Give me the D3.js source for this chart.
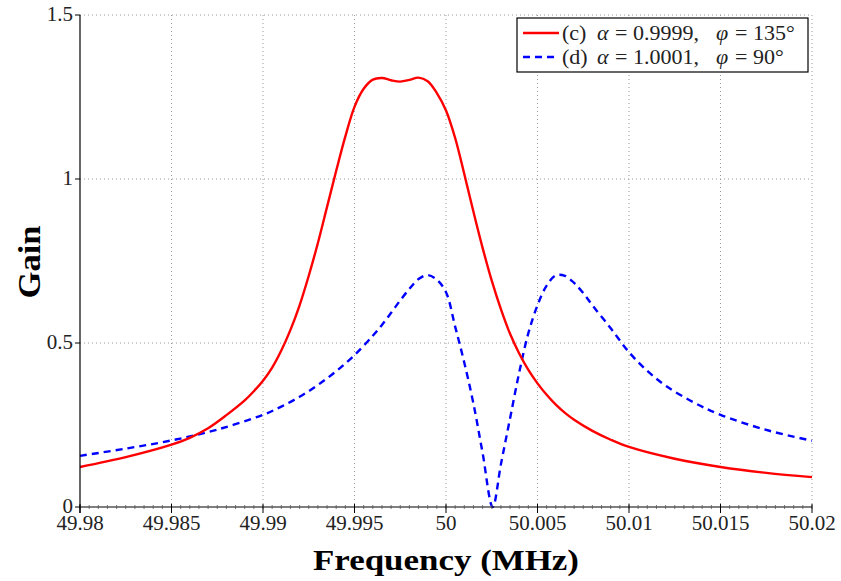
<!DOCTYPE html>
<html>
<head>
<meta charset="utf-8">
<script src="https://cdn.jsdelivr.net/npm/d3@7"></script>
<style>
  body { margin: 0; background: #fff; }
  svg { display: block; font-family: "Liberation Serif", "DejaVu Serif", serif; }
</style>
</head>
<body>
<svg id="chart"></svg>
<script>
const width = 841;
const height = 581;

// (c) alpha = 0.9999, phi = 135 : frequency (MHz) and gain
const freqC = [49.98, 49.9825, 49.985, 49.986, 49.987, 49.988, 49.989, 49.9895, 49.99, 49.9905,
  49.991, 49.9915, 49.992, 49.9925, 49.993, 49.9935, 49.994, 49.9945, 49.995, 49.9955,
  49.996, 49.9965, 49.997, 49.9975, 49.998, 49.9985, 49.999, 49.9995, 50.0, 50.0005,
  50.001, 50.0015, 50.002, 50.0025, 50.003, 50.0035, 50.004, 50.0045, 50.005, 50.0055,
  50.006, 50.0065, 50.007, 50.008, 50.009, 50.01, 50.0125, 50.015, 50.0175, 50.02];
const gainC = [0.122, 0.152, 0.19, 0.211, 0.24, 0.28, 0.325, 0.353, 0.385, 0.425,
  0.477, 0.54, 0.615, 0.705, 0.805, 0.915, 1.025, 1.13, 1.22, 1.275,
  1.303, 1.308, 1.301, 1.297, 1.302, 1.309, 1.298, 1.262, 1.209, 1.125,
  1.015, 0.9, 0.79, 0.69, 0.603, 0.528, 0.468, 0.418, 0.377, 0.342,
  0.312, 0.287, 0.266, 0.232, 0.205, 0.183, 0.147, 0.122, 0.104, 0.091];

// (d) alpha = 1.0001, phi = 90 : frequency (MHz) and gain
const freqD = [49.98, 49.9825, 49.985, 49.9875, 49.99, 49.991, 49.992, 49.993, 49.994, 49.995,
  49.996, 49.9965, 49.997, 49.9975, 49.998, 49.9985, 49.999, 49.9995, 50.0, 50.0005,
  50.001, 50.0015, 50.002, 50.00255, 50.003, 50.0035, 50.004, 50.0045, 50.005, 50.0055,
  50.006, 50.0065, 50.007, 50.0075, 50.008, 50.009, 50.01, 50.011, 50.012, 50.0135,
  50.015, 50.0175, 50.02];
const gainD = [0.156, 0.178, 0.203, 0.236, 0.281, 0.306, 0.336, 0.372, 0.414, 0.463,
  0.522, 0.555, 0.592, 0.63, 0.665, 0.695, 0.707, 0.693, 0.655, 0.55,
  0.44, 0.315, 0.165, 0.0, 0.13, 0.27, 0.41, 0.53, 0.615, 0.675,
  0.706, 0.705, 0.683, 0.652, 0.615, 0.545, 0.472, 0.415, 0.37, 0.32,
  0.281, 0.235, 0.202];

const xTicks = [49.98, 49.985, 49.99, 49.995, 50, 50.005, 50.01, 50.015, 50.02];
const xTickLabels = ["49.98", "49.985", "49.99", "49.995", "50", "50.005", "50.01", "50.015", "50.02"];
const yTicks = [0, 0.5, 1, 1.5];
const yTickLabels = ["0", "0.5", "1", "1.5"];

const margin = { top: 15, right: 29, bottom: 74, left: 80 };
const innerW = width - margin.left - margin.right;
const innerH = height - margin.top - margin.bottom;

const svg = d3.select("#chart").attr("width", width).attr("height", height);
const g = svg.append("g").attr("transform", `translate(${margin.left},${margin.top})`);

const x = d3.scaleLinear().domain([49.98, 50.02]).range([0, innerW]);
const y = d3.scaleLinear().domain([0, 1.5]).range([innerH, 0]);

// grid
g.append("g").selectAll("line")
  .data(xTicks.slice(1))
  .join("line")
  .attr("x1", d => x(d)).attr("x2", d => x(d))
  .attr("y1", 0).attr("y2", innerH)
  .attr("stroke", "#9a9a9a").attr("stroke-width", 1)
  .attr("stroke-dasharray", "1,3");

g.append("g").selectAll("line")
  .data(yTicks.slice(1))
  .join("line")
  .attr("x1", 0).attr("x2", innerW)
  .attr("y1", d => y(d)).attr("y2", d => y(d))
  .attr("stroke", "#9a9a9a").attr("stroke-width", 1)
  .attr("stroke-dasharray", "1,3");

// curves
const lineFor = xs => d3.line()
  .x((d, i) => x(xs[i]))
  .y(d => y(d))
  .curve(d3.curveCatmullRom.alpha(0.5));

g.append("path")
  .datum(gainD)
  .attr("d", lineFor(freqD))
  .attr("fill", "none")
  .attr("stroke", "#0000ff")
  .attr("stroke-width", 2.4)
  .attr("stroke-dasharray", "7,5");

g.append("path")
  .datum(gainC)
  .attr("d", lineFor(freqC))
  .attr("fill", "none")
  .attr("stroke", "#ff0000")
  .attr("stroke-width", 2.4);

// x axis with minor ticks
const xAxis = g.append("g").attr("transform", `translate(0,${innerH})`);
xAxis.append("line")
  .attr("x1", 0).attr("x2", innerW)
  .attr("stroke", "#000").attr("stroke-width", 1.2);
xAxis.selectAll(".minor")
  .data(d3.range(0, 81).map(i => 49.98 + i * 0.0005))
  .join("line")
  .attr("class", "minor")
  .attr("x1", d => x(d)).attr("x2", d => x(d))
  .attr("y1", -2).attr("y2", 2)
  .attr("stroke", "#555").attr("stroke-width", 0.8);
xAxis.selectAll(".major")
  .data(xTicks)
  .join("line")
  .attr("class", "major")
  .attr("x1", d => x(d)).attr("x2", d => x(d))
  .attr("y1", -3).attr("y2", 6)
  .attr("stroke", "#000").attr("stroke-width", 1);
xAxis.selectAll("text")
  .data(xTicks)
  .join("text")
  .attr("x", d => x(d))
  .attr("y", 23)
  .attr("text-anchor", "middle")
  .attr("font-size", 21)
  .attr("fill", "#222")
  .text((d, i) => xTickLabels[i]);

// y axis
const yAxis = g.append("g");
yAxis.append("line")
  .attr("x1", 0).attr("x2", 0)
  .attr("y1", 0).attr("y2", innerH + 6)
  .attr("stroke", "#000").attr("stroke-width", 1.2);
yAxis.selectAll(".tick")
  .data(yTicks)
  .join("line")
  .attr("class", "tick")
  .attr("x1", -5).attr("x2", 0)
  .attr("y1", d => y(d)).attr("y2", d => y(d))
  .attr("stroke", "#000").attr("stroke-width", 1);
yAxis.selectAll("text")
  .data(yTicks)
  .join("text")
  .attr("x", -7)
  .attr("y", d => y(d) + 6)
  .attr("text-anchor", "end")
  .attr("font-size", 21)
  .attr("fill", "#222")
  .text((d, i) => yTickLabels[i]);

// axis titles
svg.append("text")
  .attr("x", margin.left + innerW / 2)
  .attr("y", 570)
  .attr("text-anchor", "middle")
  .attr("font-size", 30)
  .attr("font-weight", "bold")
  .attr("textLength", 266)
  .attr("lengthAdjust", "spacingAndGlyphs")
  .text("Frequency (MHz)");

svg.append("text")
  .attr("transform", "translate(40,262) rotate(-90)")
  .attr("text-anchor", "middle")
  .attr("font-size", 31)
  .attr("font-weight", "bold")
  .attr("textLength", 73)
  .attr("lengthAdjust", "spacingAndGlyphs")
  .text("Gain");

// legend
const legend = svg.append("g").attr("transform", "translate(517,18)");
legend.append("rect")
  .attr("width", 291).attr("height", 54)
  .attr("fill", "#fff").attr("stroke", "#000").attr("stroke-width", 1.2);

const legendItems = [
  { color: "#ff0000", dash: null, label: "(c)", alpha: "0.9999,", phi: "135°" },
  { color: "#0000ff", dash: "7,5", label: "(d)", alpha: "1.0001,", phi: "90°" }
];
legendItems.forEach((item, i) => {
  const yy = 15 + i * 24;
  legend.append("line")
    .attr("x1", 6).attr("x2", 42)
    .attr("y1", yy).attr("y2", yy)
    .attr("stroke", item.color).attr("stroke-width", 2.4)
    .attr("stroke-dasharray", item.dash);
  const t = legend.append("text")
    .attr("y", yy + 7)
    .attr("font-size", 22)
    .attr("fill", "#222");
  t.append("tspan").attr("x", 45).text(item.label);
  t.append("tspan").attr("x", 80).attr("font-style", "italic").text("α");
  t.append("tspan").attr("x", 98).text("=");
  t.append("tspan").attr("x", 116).text(item.alpha);
  t.append("tspan").attr("x", 199).attr("font-style", "italic").text("φ");
  t.append("tspan").attr("x", 218).text("=");
  t.append("tspan").attr("x", 236).text(item.phi);
});
</script>
</body>
</html>
